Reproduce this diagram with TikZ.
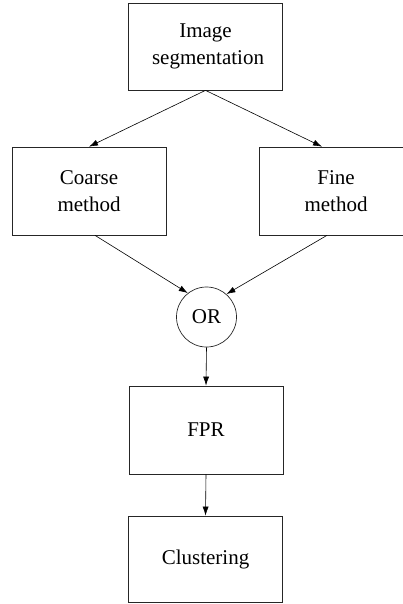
\documentclass[tikz,border=0pt]{standalone}
\usepackage{fontspec}
\setmainfont{Liberation Serif}
\usetikzlibrary{arrows.meta,calc}
\begin{document}
\begin{tikzpicture}[x=1pt,y=-1pt,
  boxnode/.style={draw=black!85, line width=0.7pt, rectangle, minimum width=154pt, minimum height=88pt, inner sep=0pt, align=center, font=\fontsize{21}{27}\selectfont},
  ornode/.style={draw=black!85, line width=0.7pt, circle, minimum size=60pt, inner sep=0pt, font=\fontsize{21}{27}\selectfont},
  conn/.style={line width=0.6pt, -{Latex[length=9pt,width=6pt]}}]
\clip (0,0) rectangle (403,604);
\node[boxnode, minimum height=87pt] (seg) at (205.5,46.5) {Image\\\hspace*{5pt}segmentation};
\node[boxnode] (coarse) at (89,191) {Coarse\\method};
\node[boxnode] (fine) at (336,191) {Fine\\method};
\node[ornode] (or) at (206.5,317) {OR};
\node[boxnode] (fpr) at (206,430) {FPR};
\node[boxnode, minimum height=86pt] (clus) at (205.5,559) {Clustering};
\coordinate (fineIn) at ($(fine.north)+(-14,0)$);
\coordinate (coarseOut) at ($(coarse.south)+(6,0)$);
\coordinate (fineOut) at ($(fine.south)+(-9,0)$);
\draw[conn] (seg.south) -- (coarse.north);
\draw[conn] (seg.south) -- (fineIn);
\draw[conn] (coarseOut) -- (or.128);
\draw[conn] (fineOut) -- (or.49);
\draw[conn] (or.south) -- (fpr.north);
\draw[conn] (fpr.south) -- (clus.north);
\end{tikzpicture}
\end{document}
